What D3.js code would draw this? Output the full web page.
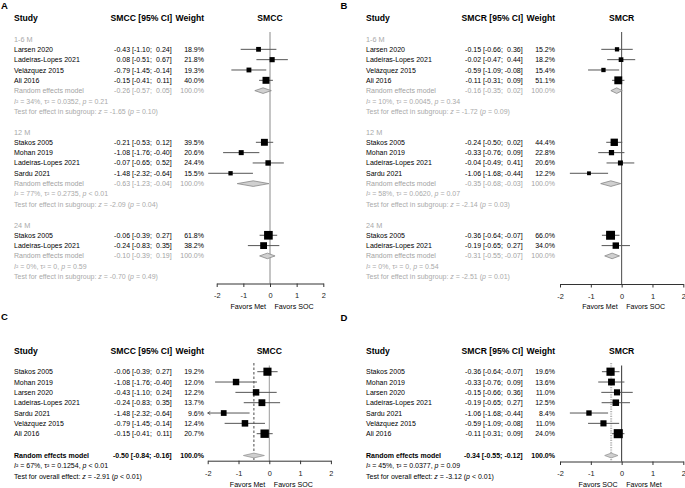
<!DOCTYPE html>
<html><head><meta charset="utf-8">
<script src="https://cdn.jsdelivr.net/npm/d3@7"></script>
<style>body{margin:0;background:#fff}svg text{font-family:"Liberation Sans",Arial,Helvetica,sans-serif}</style>
</head><body><svg id="c" width="685" height="488"></svg>
<script>
// ---------- DATA ----------
const tickValues = [-2, -1, 0, 1, 2];
// [study, estimate, lower, upper, weight%]
const smcc_1_6 = [["Larsen 2020",-0.43,-1.10,0.24,18.9],["Ladeiras-Lopes 2021",0.08,-0.51,0.67,21.8],["Velázquez 2015",-0.79,-1.45,-0.14,19.3],["Ali 2016",-0.15,-0.41,0.11,40.0]];
const smcc_12 = [["Stakos 2005",-0.21,-0.53,0.12,39.5],["Mohan 2019",-1.08,-1.76,-0.40,20.6],["Ladeiras-Lopes 2021",-0.07,-0.65,0.52,24.4],["Sardu 2021",-1.48,-2.32,-0.64,15.5]];
const smcc_24 = [["Stakos 2005",-0.06,-0.39,0.27,61.8],["Ladeiras-Lopes 2021",-0.24,-0.83,0.35,38.2]];
const smcc_pooled = [[-0.26,-0.57,0.05],[-0.63,-1.23,-0.04],[-0.10,-0.39,0.19]];
const smcc_het = [["34%","0.0352","= 0.21"],["77%","0.2735","< 0.01"],["0%","0","= 0.59"]];
const smcc_test = [["-1.65","= 0.10"],["-2.09","= 0.04"],["-0.70","= 0.49"]];

const smcr_1_6 = [["Larsen 2020",-0.15,-0.66,0.36,15.2],["Ladeiras-Lopes 2021",-0.02,-0.47,0.44,18.2],["Velázquez 2015",-0.59,-1.09,-0.08,15.4],["Ali 2016",-0.11,-0.31,0.09,51.1]];
const smcr_12 = [["Stakos 2005",-0.24,-0.50,0.02,44.4],["Mohan 2019",-0.33,-0.76,0.09,22.8],["Ladeiras-Lopes 2021",-0.04,-0.49,0.41,20.6],["Sardu 2021",-1.06,-1.68,-0.44,12.2]];
const smcr_24 = [["Stakos 2005",-0.36,-0.64,-0.07,66.0],["Ladeiras-Lopes 2021",-0.19,-0.65,0.27,34.0]];
const smcr_pooled = [[-0.16,-0.35,0.02],[-0.35,-0.68,-0.03],[-0.31,-0.55,-0.07]];
const smcr_het = [["10%","0.0045","= 0.34"],["58%","0.0620","= 0.07"],["0%","0","= 0.54"]];
const smcr_test = [["-1.72","= 0.09"],["-2.14","= 0.03"],["-2.51","= 0.01"]];

const subgroupLabels = ["1-6 M", "12 M", "24 M"];

const smcc_all = [["Stakos 2005",-0.06,-0.39,0.27,19.2],["Mohan 2019",-1.08,-1.76,-0.40,12.0],["Larsen 2020",-0.43,-1.10,0.24,12.2],["Ladeiras-Lopes 2021",-0.24,-0.83,0.35,13.7],["Sardu 2021",-1.48,-2.32,-0.64,9.6],["Velázquez 2015",-0.79,-1.45,-0.14,12.4],["Ali 2016",-0.15,-0.41,0.11,20.7]];
const smcc_all_pooled = [-0.50,-0.84,-0.16];
const smcc_all_het = ["67%","0.1254","< 0.01"];
const smcc_all_test = ["-2.91","< 0.01"];

const smcr_all = [["Stakos 2005",-0.36,-0.64,-0.07,19.6],["Mohan 2019",-0.33,-0.76,0.09,13.6],["Larsen 2020",-0.15,-0.66,0.36,11.0],["Ladeiras-Lopes 2021",-0.19,-0.65,0.27,12.5],["Sardu 2021",-1.06,-1.68,-0.44,8.4],["Velázquez 2015",-0.59,-1.09,-0.08,11.0],["Ali 2016",-0.11,-0.31,0.09,24.0]];
const smcr_all_pooled = [-0.34,-0.55,-0.12];
const smcr_all_het = ["45%","0.0377","= 0.09"];
const smcr_all_test = ["-3.12","< 0.01"];

// ---------- DRAWING ----------
const svg = d3.select("#c");
const FS = 7.0, HFS = 8.6;
const f2 = v => (v < 0 ? "-" : "") + Math.abs(v).toFixed(2);

function txt(g, x, y, s, o = {}) {
  return g.append("text").attr("x", x).attr("y", y + 0.36 * (o.size || FS))
    .attr("font-size", o.size || FS).attr("fill", o.fill || "#000")
    .attr("font-weight", o.bold ? "bold" : null)
    .attr("text-anchor", o.anchor || "start").text(s);
}
function measure(s, o) {
  const t = txt(svg, 0, -50, s, o);
  const w = t.node().getComputedTextLength();
  t.remove();
  return w;
}
function rich(g, x, y, parts, fill) {
  const t = g.append("text").attr("x", x).attr("y", y + 0.36 * FS).attr("font-size", FS).attr("fill", fill);
  parts.forEach(p => t.append("tspan").attr("font-style", p[1] ? "italic" : null).text(p[0]));
}

function panel(cfg) {
  const g = svg.append("g");
  const c = cfg;
  txt(g, c.letterX, c.letterY, c.letter, {size: 9.5, bold: true});
  txt(g, c.studyX, c.headY, "Study", {size: HFS, bold: true});
  txt(g, c.ciR + 0.5, c.headY, c.measure + " [95% CI]", {size: HFS, bold: true, anchor: "end"});
  txt(g, c.wR, c.headY, "Weight", {size: HFS, bold: true, anchor: "end"});
  const x = d3.scaleLinear().domain([-2, 2]).range(c.range);
  txt(g, (c.range[0] + c.range[1]) / 2, c.headY, c.measure, {size: HFS, bold: true, anchor: "middle"});

  function ciText(y, e, lo, hi, o) {
    const gap = measure("a a", o) - measure("aa", o);
    const semiR = c.ciR - measure("-0.00]", o) - gap;
    const estR = semiR - measure("[-0.00;", o) - gap;
    const oe = Object.assign({anchor: "end"}, o);
    txt(g, estR, y, f2(e), oe);
    txt(g, semiR, y, "[" + f2(lo) + ";", oe);
    txt(g, c.ciR, y, f2(hi) + "]", oe);
  }
  // reference lines (behind marks)
  g.append("line").attr("x1", x(0)).attr("x2", x(0)).attr("y1", c.refTop).attr("y2", c.axisY)
    .attr("stroke", c.refCol).attr("stroke-width", 1);
  if (c.pooledLine) {
    const pl = c.pooledLine;
    g.append("line").attr("x1", x(pl.v)).attr("x2", x(pl.v)).attr("y1", c.refTop - 2.5).attr("y2", c.axisY)
      .attr("stroke", pl.col).attr("stroke-width", pl.w).attr("stroke-dasharray", pl.dash);
  }
  function study(y, r, k) {
    txt(g, c.studyX, y, r[0]);
    ciText(y, r[1], r[2], r[3], {});
    txt(g, c.wR, y, r[4].toFixed(1) + "%", {anchor: "end"});
    const lo = c.clip ? Math.max(r[2], -2) : r[2], hi = c.clip ? Math.min(r[3], 2) : r[3];
    g.append("line").attr("x1", x(lo)).attr("x2", x(hi)).attr("y1", y).attr("y2", y)
      .attr("stroke", "#555").attr("stroke-width", 1);
    if (c.clip && r[2] < -2) {
      const ax = x(-2);
      g.append("path").attr("d", `M${ax + 2.6},${y - 1.6}L${ax},${y}L${ax + 2.6},${y + 1.6}`)
        .attr("fill", "none").attr("stroke", "#555").attr("stroke-width", 0.9);
    }
    const s = k * Math.sqrt(r[4]);
    g.append("rect").attr("x", x(r[1]) - s / 2).attr("y", y - s / 2).attr("width", s).attr("height", s).attr("fill", "#000");
  }
  function pooled(y, p, o, dia) {
    txt(g, c.studyX, y, "Random effects model", o);
    ciText(y, p[0], p[1], p[2], o);
    txt(g, c.wR, y, "100.0%", Object.assign({anchor: "end"}, o));
    const h = dia.h;
    g.append("polygon").attr("points", [[x(p[1]), y], [x(p[0]), y - h], [x(p[2]), y], [x(p[0]), y + h]].map(d => d.join(",")).join(" "))
      .attr("fill", dia.fill).attr("stroke", dia.stroke).attr("stroke-width", 0.8);
  }
  function het(y, h, col) {
    rich(g, c.studyX, y, [["I", true], ["² = " + h[0] + ", ", false], ["τ", false], ["² = " + h[1] + ", ", false], ["p", true], [" " + h[2], false]], col);
  }
  function test(y, label, t, col) {
    rich(g, c.studyX, y, [[label + ": ", false], ["z", true], [" = " + t[0] + " (", false], ["p", true], [" " + t[1] + ")", false]], col);
  }

  if (c.groups) {
    const rowY = i => c.row0 + i * c.pitch;
    let i = 0;
    c.groups.forEach(gr => {
      txt(g, c.studyX, rowY(i), gr.label, {fill: "#aaa", size: 7.3});
      gr.rows.forEach((r, j) => study(rowY(i + 1 + j), r, c.k));
      const n = gr.rows.length;
      pooled(rowY(i + n + 1), gr.pooled, {fill: "#a3a3a3"}, {h: 2.8, fill: "#d0d0d0", stroke: "#888"});
      het(rowY(i + n + 2), gr.het, "#aaa");
      test(rowY(i + n + 3), "Test for effect in subgroup", gr.test, "#aaa");
      i += n + 5;
    });
  } else {
    c.rows.forEach((r, j) => study(c.row0 + j * c.pitch, r, c.k));
    pooled(c.pooledY, c.pooled, {bold: true}, {h: 2.4, fill: "#cfcfcf", stroke: "#999"});
    het(c.pooledY + 10.3, c.het, "#000");
    test(c.pooledY + 20.6, "Test for overall effect", c.test, "#000");
  }

  // axis
  const ax = g.append("g").attr("transform", `translate(0,${c.axisY})`)
    .call(d3.axisBottom(x).tickValues(tickValues).tickSize(3.5).tickSizeOuter(0).tickPadding(c.tickPad)
      .tickFormat(d => d === 0 ? "0" : (d < 0 ? "-" : "") + Math.abs(d)));
  ax.select(".domain").attr("stroke", "#333");
  ax.selectAll(".tick line").attr("stroke", "#333");
  ax.selectAll(".tick text").attr("font-size", 7.4).attr("fill", "#222").attr("font-family", '"Liberation Sans",Arial,sans-serif');
  txt(g, x(0) - 4, c.axisY + c.favDy, c.favL, {size: 7.1, anchor: "end"});
  txt(g, x(0) + 4.5, c.axisY + c.favDy, c.favR, {size: 7.1});
}

const colA = {studyX: 14, ciR: 171.7, wR: 204};
const colB = {studyX: 366, ciR: 522.7, wR: 555};

panel(Object.assign({}, colA, {
  letter: "A", letterX: 1, letterY: 6, headY: 17.5, measure: "SMCC",
  range: [216.7, 323.3], axisY: 283.5, refTop: 32, refCol: "#8a8a8a",
  row0: 39, pitch: 10.33, k: 1.1, clip: false, tickPad: 6, favDy: 22.5,
  favL: "Favors Met", favR: "Favors SOC",
  groups: [0, 1, 2].map(i => ({label: subgroupLabels[i], rows: [smcc_1_6, smcc_12, smcc_24][i], pooled: smcc_pooled[i], het: smcc_het[i], test: smcc_test[i]}))
}));
panel(Object.assign({}, colB, {
  letter: "B", letterX: 340.5, letterY: 6, headY: 17.5, measure: "SMCR",
  range: [560, 683.3], axisY: 284, refTop: 32, refCol: "#4a4a4a",
  row0: 39, pitch: 10.33, k: 1.1, clip: false, tickPad: 6, favDy: 22.5,
  favL: "Favors Met", favR: "Favors SOC",
  groups: [0, 1, 2].map(i => ({label: subgroupLabels[i], rows: [smcr_1_6, smcr_12, smcr_24][i], pooled: smcr_pooled[i], het: smcr_het[i], test: smcr_test[i]}))
}));
panel(Object.assign({}, colA, {
  letter: "C", letterX: 1, letterY: 317, headY: 350.7, measure: "SMCC",
  range: [207.7, 330.9], axisY: 460.7, refTop: 365.5, refCol: "#9a9a9a",
  pooledLine: {v: smcc_all_pooled[0], col: "#333", w: 0.9, dash: "2.5,2"},
  row0: 371.7, pitch: 10.33, k: 1.85, clip: true, tickPad: 6.5, favDy: 23.8,
  favL: "Favors Met", favR: "Favors SOC",
  rows: smcc_all, pooled: smcc_all_pooled, pooledY: 455.5, het: smcc_all_het, test: smcc_all_test
}));
panel(Object.assign({}, colB, {
  letter: "D", letterX: 340.5, letterY: 318, headY: 350.7, measure: "SMCR",
  range: [560, 683.3], axisY: 461.5, refTop: 365.5, refCol: "#333",
  pooledLine: {v: smcr_all_pooled[0], col: "#b5b5b5", w: 2, dash: "1.2,1.2"},
  row0: 371.7, pitch: 10.33, k: 1.85, clip: true, tickPad: 6, favDy: 23,
  favL: "Favors SOC", favR: "Favors Met",
  rows: smcr_all, pooled: smcr_all_pooled, pooledY: 455.5, het: smcr_all_het, test: smcr_all_test
}));
</script></body></html>
